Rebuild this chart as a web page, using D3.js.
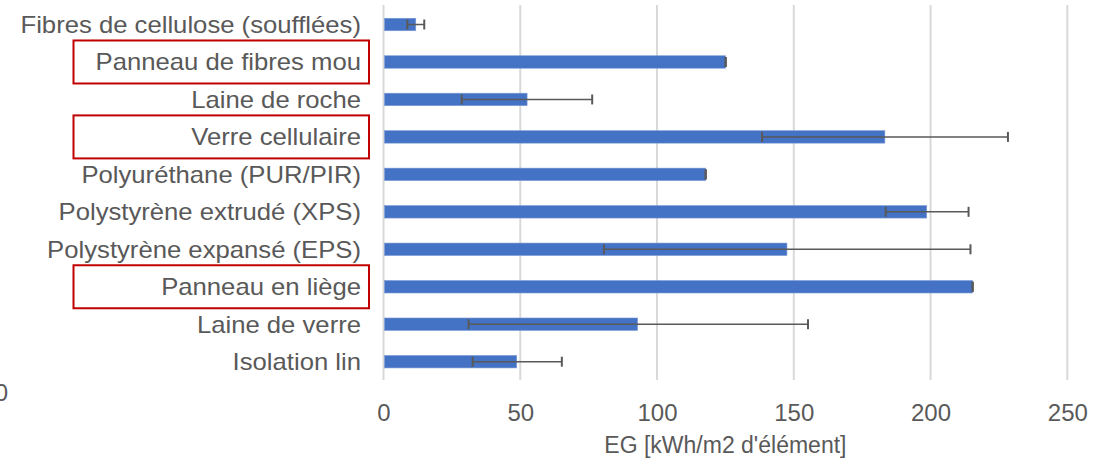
<!DOCTYPE html>
<html><head><meta charset="utf-8">
<script src="https://cdn.jsdelivr.net/npm/d3@7/dist/d3.min.js"></script>
<style>html,body{margin:0;padding:0;background:#fff;overflow:hidden}</style>
</head><body>
<script>
const categories = ["Fibres de cellulose (soufflées)","Panneau de fibres mou","Laine de roche","Verre cellulaire","Polyuréthane (PUR/PIR)","Polystyrène extrudé (XPS)","Polystyrène expansé (EPS)","Panneau en liège","Laine de verre","Isolation lin"];
const values  = [11.8, 125.1, 52.5, 183.3, 117.8, 198.6, 147.5, 215.4, 92.9, 48.7];
const errLow  = [8.7, 125.1, 28.6, 138.4, 117.8, 183.6, 80.6, 215.4, 31.1, 32.6];
const errHigh = [14.9, 125.1, 76.3, 228.3, 117.8, 213.9, 214.6, 215.4, 155.2, 65.2];
const highlighted = ["Panneau de fibres mou","Verre cellulaire","Panneau en liège"];
const xTicks = [0, 50, 100, 150, 200, 250];
const xTitle = "EG [kWh/m2 d'élément]";

const W = 1112, H = 459;
const svg = d3.select("body").append("svg").attr("width", W).attr("height", H)
  .style("font-family", "'Liberation Sans', Arial, sans-serif");

const x = d3.scaleLinear().domain([0, 250]).range([383.5, 1067.3]);
const y = d3.scaleBand().domain(categories).range([5.8, 380.4]).paddingInner(0.667).paddingOuter(0.333);
const plotTop = 5, plotBottom = 380;

// gridlines
svg.append("g").selectAll("line").data(xTicks).join("line")
  .attr("x1", d => x(d)).attr("x2", d => x(d))
  .attr("y1", plotTop).attr("y2", plotBottom)
  .attr("stroke", "#d9d9d9").attr("stroke-width", 2);

// x tick labels
const xAxis = d3.axisBottom(x).tickValues(xTicks).tickSize(0).tickPadding(0).tickFormat(d3.format("d"));
const gx = svg.append("g").attr("transform", `translate(0,${plotBottom})`).call(xAxis);
gx.select(".domain").remove();
gx.selectAll("text").attr("fill", "#595959").attr("font-size", 24)
  .attr("font-family", "'Liberation Sans', Arial, sans-serif").attr("dy", null).attr("y", 41);

// stray clipped label at left
svg.append("text").attr("x", 8).attr("y", 401).attr("text-anchor", "end")
  .attr("fill", "#595959").attr("font-size", 24).text(xTicks[0]);

// axis title
svg.append("text").attr("x", (x(0) + x(250)) / 2).attr("y", 453).attr("text-anchor", "middle")
  .attr("fill", "#595959").attr("font-size", 23).text(xTitle);

// bars
const rows = categories.map((c, i) => ({c, v: values[i], lo: errLow[i], hi: errHigh[i]}));
svg.append("g").selectAll("rect").data(rows).join("rect")
  .attr("x", x(0) + 1).attr("y", d => y(d.c))
  .attr("width", d => x(d.v) - x(0) - 1).attr("height", y.bandwidth())
  .attr("fill", "#4472C4").attr("stroke", "#7c9bd6").attr("stroke-width", 0.6);

// error bars
const eb = svg.append("g").attr("stroke", "#595959");
rows.forEach(d => {
  const cy = y(d.c) + y.bandwidth() / 2;
  if (d.hi > d.lo) {
    eb.append("line").attr("x1", x(d.lo)).attr("x2", x(d.hi)).attr("y1", cy).attr("y2", cy).attr("stroke-width", 1.5);
  }
  [d.lo, d.hi].forEach(e => {
    eb.append("line").attr("x1", x(e)).attr("x2", x(e)).attr("y1", cy - 5).attr("y2", cy + 5).attr("stroke-width", 2);
  });
});

// category labels (slightly widened like the reference)
svg.append("g").selectAll("text").data(categories).join("text")
  .attr("transform", d => `translate(361,${y(d) + y.bandwidth() / 2 + 8.5}) scale(1.07,1)`)
  .attr("text-anchor", "end").attr("fill", "#595959").attr("font-size", 24)
  .text(d => d);

// highlight boxes
svg.append("g").selectAll("rect").data(highlighted).join("rect")
  .attr("x", 73.5).attr("width", 295.5)
  .attr("y", d => y(d) + y.bandwidth() / 2 - 21.5).attr("height", 43)
  .attr("fill", "none").attr("stroke", "#C00000").attr("stroke-width", 2);
</script>
</body></html>
